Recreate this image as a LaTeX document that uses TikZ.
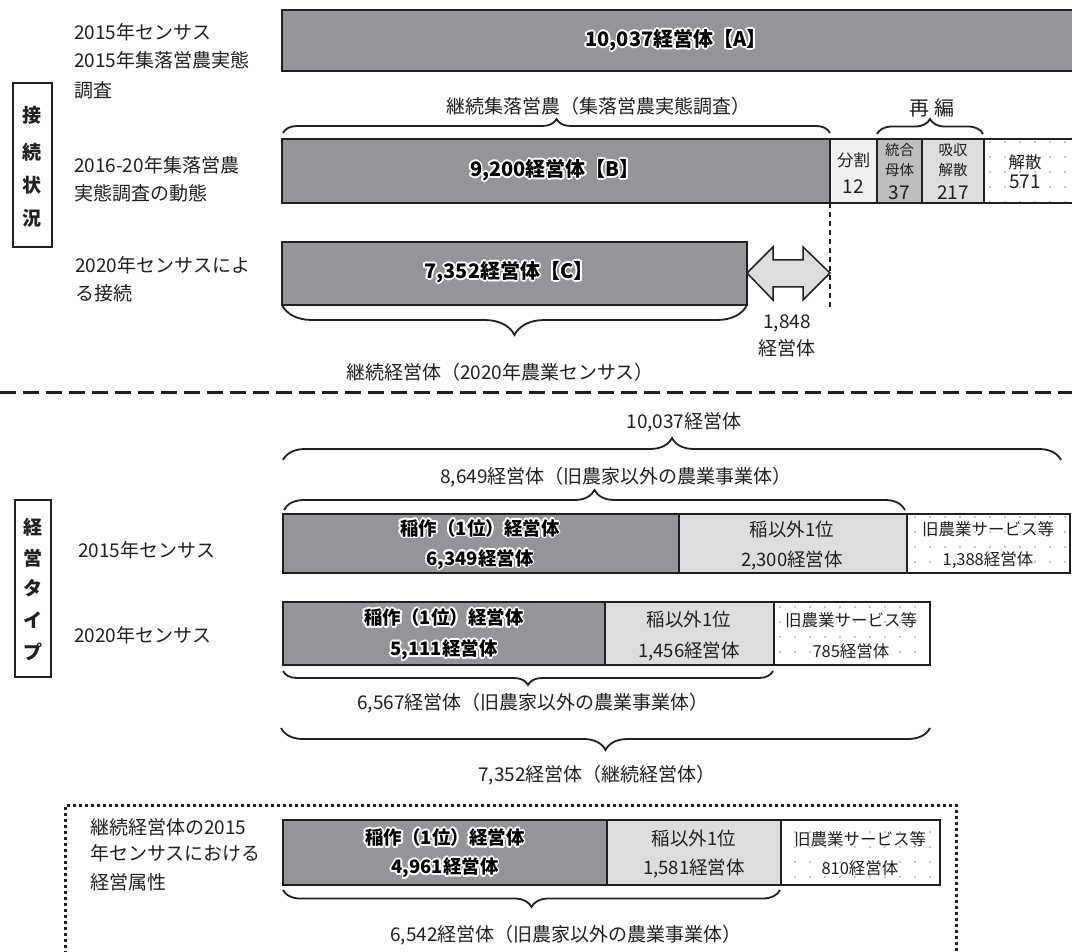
\documentclass[tikz,border=0pt]{standalone}
\usepackage{fontspec}
\setmainfont{Noto Sans CJK JP}
\usepackage{contour}
\contourlength{1.7pt}
\contournumber{12}
\usetikzlibrary{decorations.pathreplacing,patterns.meta}
\definecolor{dk}{HTML}{949598}
\definecolor{lt}{HTML}{DCDDDE}
\definecolor{vl}{HTML}{F0F0F1}
\definecolor{md}{HTML}{BDBEC0}
\definecolor{ln}{HTML}{231F20}
\tikzset{
  bar/.style={draw=ln, line width=2.2pt},
  dotcell/.style={pattern={Dots[radius=0.8pt,distance=15pt]}, pattern color=black!45},
  lbl/.style={anchor=west, inner sep=0pt, text=ln, font=\fontsize{19}{22}\selectfont},
  ctr/.style={inner sep=0pt, text=ln, font=\fontsize{19}{22}\selectfont},
  bold/.style={inner sep=0pt, text=black, align=center, font=\fontsize{18.5}{29}\selectfont\bfseries},
  cell/.style={inner sep=0pt, text=ln, align=center, font=\fontsize{18.5}{29}\selectfont},
  small/.style={inner sep=0pt, text=ln, align=center, font=\fontsize{16.5}{29}\selectfont},
  tiny/.style={inner sep=0pt, text=ln, font=\fontsize{14.5}{16}\selectfont},
  vchar/.style={inner sep=0pt, text=ln, font=\fontsize{19}{22}\selectfont\bfseries},
  brc/.style={draw=ln, line width=1.8pt, decorate, decoration={brace, amplitude=#1}},
  brc/.default=20,
}
\newcommand{\glow}[1]{\contour{white}{#1}}
\begin{document}
\begin{tikzpicture}[x=1pt,y=-1pt]
\useasboundingbox (0,0) rectangle (1072,952);
\fill[white] (0,0) rectangle (1072,952);

% ===== upper section =====
\node[lbl] (l1) at (74,32) {2015年センサス};
\node[lbl] (l2) at (74,60) {2015年集落営農実態};
\node[lbl] (l3) at (74,90) {調査};
\node[lbl] (l4) at (74,165) {2016-20年集落営農};
\node[lbl] (l5) at (74,193) {実態調査の動態};
\node[lbl] (l6) at (75,265) {2020年センサスによ};
\node[lbl] (l7) at (75,293) {る接続};

\draw[ln, line width=1.6pt] (12.7,83) rectangle (52,247);
\node[vchar] (v1) at (32,115) {接};
\node[vchar] (v2) at (32,152) {続};
\node[vchar] (v3) at (32,185) {状};
\node[vchar] (v4) at (32,218) {況};

% A bar
\draw[bar, fill=dk] (282,10) rectangle (1080,71);
\node[bold, font=\fontsize{20}{22}\selectfont\bfseries] (A) at (676,41) {\glow{10,037経営体【A】}};

% braces
\node[ctr] (kz) at (598,106) {継続集落営農（集落営農実態調査）};
\draw[brc=14, decoration={aspect=0.5}] (283,133) -- (830,133);
\node[ctr, font=\fontsize{20}{22}\selectfont] (rh) at (932,108) {再 編};
\draw[brc=15, decoration={aspect=0.5}] (877,134) -- (983,134);

% B row
\draw[bar, fill=dk] (282,139) rectangle (830,203);
\node[bold, font=\fontsize{20}{22}\selectfont\bfseries] (B) at (555,171) {\glow{9,200経営体【B】}};
\fill[dotcell] (984,139) rectangle (1080,203);
\draw[bar] (984,139) rectangle (1080,203);
\draw[bar, fill=vl] (830,139) rectangle (877,203);
\draw[bar, fill=md] (877,139) rectangle (922,203);
\draw[bar, fill=lt] (922,139) rectangle (984,203);
\node[small] (bk1) at (853.5,160) {分割};
\node[ctr] (bk2) at (853.5,187) {12};
\node[tiny] (bt1) at (899.5,150) {統合};
\node[tiny] (bt2) at (899.5,170) {母体};
\node[ctr] (bt3) at (899.5,193) {37};
\node[tiny] (bx1) at (953,150) {吸収};
\node[tiny] (bx2) at (953,170) {解散};
\node[ctr] (bx3) at (953,193) {217};
\node[small] (bs1) at (1025,162) {解散};
\node[ctr] (bs2) at (1025,182) {571};

% C row
\draw[ln, line width=1.3pt, dash pattern=on 5pt off 4pt] (830,203) -- (830,308);
\draw[bar, fill=dk] (282,242) rectangle (747,305);
\node[bold, font=\fontsize{20}{22}\selectfont\bfseries] (C) at (509,273) {\glow{7,352経営体【C】}};
\coordinate (al) at (747,273);
\coordinate (ar) at (830,273);
\draw[ln, line width=1.5pt, fill=lt] (al) -- (773,247) -- (773,260) -- (803,260) -- (803,247)
  -- (ar) -- (803,300) -- (803,287) -- (773,287) -- (773,300) -- cycle;
\node[ctr] (d1) at (787,323) {1,848};
\node[ctr] (d2) at (787,348) {経営体};
\draw[brc=30, decoration={aspect=0.5}] (747,305) -- (282,305);
\node[ctr] (kc) at (500,372) {継続経営体（2020年農業センサス）};

\draw[ln, line width=3pt, dash pattern=on 16pt off 7pt] (0,392) -- (1072,392);

% ===== lower section =====
\node[ctr] (t1) at (684,422) {10,037経営体};
\draw[brc=22, decoration={aspect=0.5}] (283,460) -- (1061,460);
\node[ctr] (t2) at (616,477) {8,649経営体（旧農家以外の農業事業体）};
\draw[brc=20, decoration={aspect=0.5}] (284,510) -- (905,510);

\draw[ln, line width=1.6pt] (15,500) rectangle (51,677);
\node[vchar] (w1) at (33,527) {経};
\node[vchar] (w2) at (33,558) {営};
\node[vchar] (w3) at (33,588) {タ};
\node[vchar] (w4) at (33,620) {イ};
\node[vchar] (w5) at (33,652) {プ};

\node[lbl] (r1) at (78,550) {2015年センサス};
\node[lbl] (r2) at (74,635) {2020年センサス};

% 2015 row
\fill[dotcell] (907,514) rectangle (1070,573);
\draw[bar] (907,514) rectangle (1070,573);
\draw[bar, fill=dk] (283,514) rectangle (679,573);
\draw[bar, fill=lt] (679,514) rectangle (907,573);
\node[bold, font=\fontsize{18.5}{30}\selectfont\bfseries] (a1) at (480,545) {\glow{稲作（1位）経営体}\\\glow{6,349経営体}};
\node[cell, font=\fontsize{18.5}{30}\selectfont] (a2) at (792,545) {稲以外1位\\2,300経営体};
\node[small, font=\fontsize{16.5}{30}\selectfont] (a3) at (988,545) {旧農業サービス等\\1,388経営体};

% 2020 row
\fill[dotcell] (774,602) rectangle (930,665);
\draw[bar] (774,602) rectangle (930,665);
\draw[bar, fill=dk] (283,602) rectangle (605,665);
\draw[bar, fill=lt] (605,602) rectangle (774,665);
\node[bold, font=\fontsize{18.5}{31}\selectfont\bfseries] (b1) at (444,635) {\glow{稲作（1位）経営体}\\\glow{5,111経営体}};
\node[cell, font=\fontsize{18.5}{31}\selectfont] (b2) at (689,636) {稲以外1位\\1,456経営体};
\node[small, font=\fontsize{16.5}{31}\selectfont] (b3) at (851,636) {旧農業サービス等\\785経営体};

\draw[brc=14, decoration={aspect=0.5}] (773,671) -- (283,671);
\node[ctr] (t3) at (533,703) {6,567経営体（旧農家以外の農業事業体）};
\draw[brc=22, decoration={aspect=0.5}] (930,728) -- (281,728);
\node[ctr] (t4) at (597,775) {7,352経営体（継続経営体）};

% dotted frame
\draw[ln, line width=3pt, dash pattern=on 3pt off 3pt] (65.5,960) -- (65.5,805) -- (956,805) -- (956,960);
\node[lbl] (m1) at (90,827) {継続経営体の2015};
\node[lbl] (m2) at (90,853) {年センサスにおける};
\node[lbl] (m3) at (90,882) {経営属性};

\fill[dotcell] (781,820) rectangle (940,885);
\draw[bar] (781,820) rectangle (940,885);
\draw[bar, fill=dk] (283,820) rectangle (607,885);
\draw[bar, fill=lt] (607,820) rectangle (781,885);
\node[bold] (c1) at (445,854) {\glow{稲作（1位）経営体}\\\glow{4,961経営体}};
\node[cell] (c2) at (694,854) {稲以外1位\\1,581経営体};
\node[small] (c3) at (860,854) {旧農業サービス等\\810経営体};

\draw[brc=17, decoration={aspect=0.5}] (780,890) -- (283,890);
\node[ctr] (t5) at (566,935) {6,542経営体（旧農家以外の農業事業体）};
\end{tikzpicture}
\end{document}
